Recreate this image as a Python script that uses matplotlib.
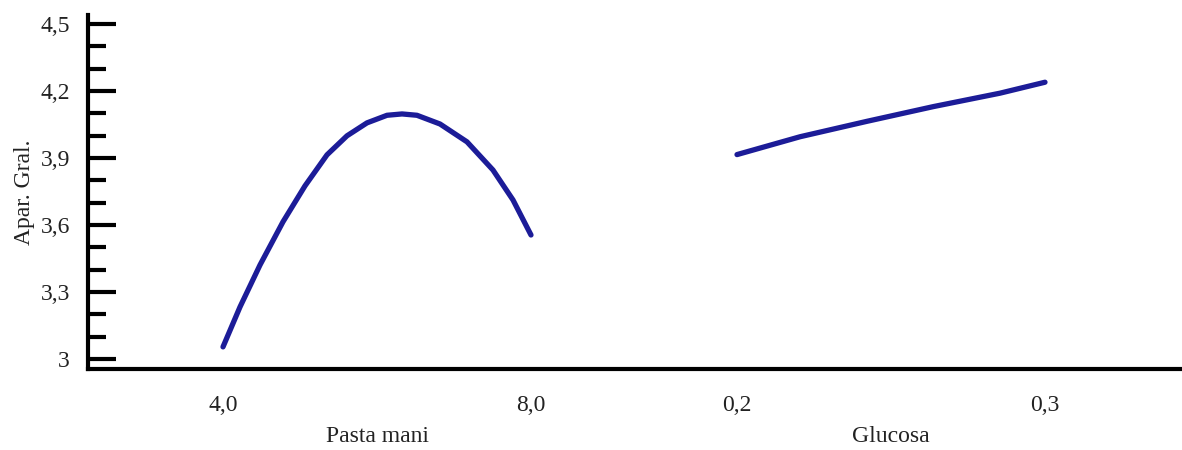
import matplotlib
matplotlib.use("Agg")
import matplotlib.pyplot as plt
from matplotlib.ticker import FixedLocator, MultipleLocator, FuncFormatter

# ---- data ----
pasta_x = [4.000, 4.221, 4.481, 4.779, 5.065, 5.351, 5.610, 5.870, 6.130, 6.325,
           6.519, 6.818, 7.169, 7.506, 7.766, 8.000]
pasta_y = [3.054, 3.233, 3.421, 3.614, 3.775, 3.914, 3.999, 4.057, 4.091, 4.097,
           4.091, 4.052, 3.972, 3.846, 3.712, 3.555]
gluc_x = [0.200, 0.2205, 0.2422, 0.2638, 0.2854, 0.300]
gluc_y = [3.915, 3.995, 4.064, 4.130, 4.190, 4.239]

factor_names = ["Pasta mani", "Glucosa"]
pasta_ticks = [4.0, 8.0]
gluc_ticks = [0.2, 0.3]
y_ticks = [3.0, 3.3, 3.6, 3.9, 4.2, 4.5]
y_label = "Apar. Gral."

plt.rcParams['font.family'] = ['Liberation Serif', 'DejaVu Serif']
FS = 17
LINE_COLOR = "#1c1c98"
TEXT_COLOR = "#222222"

W, H = 1182, 450
fig = plt.figure(figsize=(W / 100, H / 100), dpi=100)

def px_rect(x0, y_top, x1, y_bot):
    return [x0 / W, 1 - y_bot / H, (x1 - x0) / W, (y_bot - y_top) / H]

ylim = (2.955, 4.54)

# main frame axes
ax = fig.add_axes(px_rect(88, 15, 1182, 369))
ax.set_ylim(*ylim)
ax.set_xlim(0, 1)
for s in ["top", "right"]:
    ax.spines[s].set_visible(False)
ax.spines["left"].set_linewidth(3)
ax.spines["bottom"].set_linewidth(3)
ax.set_xticks([])
ax.yaxis.set_major_locator(FixedLocator(y_ticks))
ax.yaxis.set_minor_locator(MultipleLocator(0.1))
ax.yaxis.set_major_formatter(FuncFormatter(lambda v, p: ("%g" % round(v, 2)).replace(".", ",")))
ax.tick_params(axis="y", which="major", direction="in", length=20, width=3, pad=13,
               labelsize=FS, labelcolor=TEXT_COLOR)
ax.tick_params(axis="y", which="minor", direction="in", length=13, width=3)
ax.set_ylabel(y_label, fontsize=FS, color=TEXT_COLOR, labelpad=4)

def factor_axes(x0, x1, xlim, ticks, fmt, name):
    a = fig.add_axes(px_rect(x0, 15, x1, 369), sharey=ax)
    a.patch.set_alpha(0)
    for s in a.spines.values():
        s.set_visible(False)
    a.set_xlim(*xlim)
    a.set_xticks(ticks)
    a.set_xticklabels([fmt(t) for t in ticks])
    a.tick_params(axis="x", length=0, pad=19, labelsize=FS, labelcolor=TEXT_COLOR)
    a.tick_params(axis="y", left=False, labelleft=False, which="both")
    a.set_xlabel(name, fontsize=FS, color=TEXT_COLOR, labelpad=7)
    return a

fmt1 = lambda t: ("%.1f" % t).replace(".", ",")

ax1 = factor_axes(223, 531, (4.0, 8.0), pasta_ticks, fmt1, factor_names[0])
ax1.plot(pasta_x, pasta_y, color=LINE_COLOR, lw=3.8, clip_on=False,
         solid_capstyle="round", solid_joinstyle="round")

ax2 = factor_axes(737, 1045, (0.2, 0.3), gluc_ticks, fmt1, factor_names[1])
ax2.plot(gluc_x, gluc_y, color=LINE_COLOR, lw=3.8, clip_on=False,
         solid_capstyle="round", solid_joinstyle="round")

fig.savefig("out.png", dpi=100)
